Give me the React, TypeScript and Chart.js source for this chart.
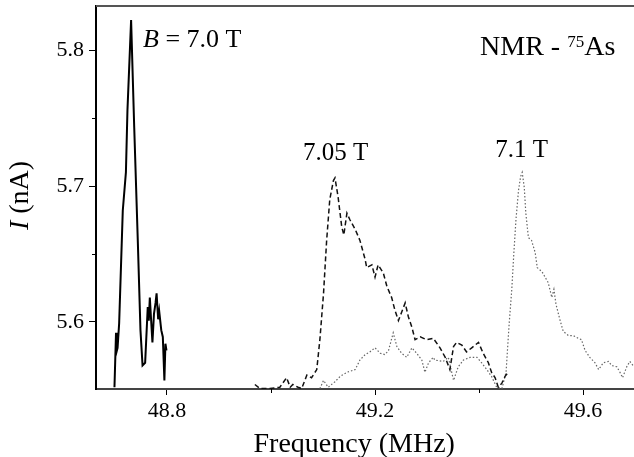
import React, { useEffect, useRef } from "react";
import { Chart, registerables } from "chart.js";

Chart.register(...registerables);

const FONT = "'Liberation Serif', 'Times New Roman', serif";

// axis ranges and ticks
const X_MIN = 48.6635;
const X_MAX = 49.698;
const Y_MIN = 5.5507;
const Y_MAX = 5.8324;
const X_TICKS = [48.8, 49.2, 49.6];
const X_MINOR = [49.0, 49.4];
const Y_TICKS = [5.6, 5.7, 5.8];
const Y_MINOR = [5.65, 5.75];

// B = 7.0 T (solid)
const B70_FREQ = [48.699, 48.702, 48.703, 48.705, 48.708, 48.715, 48.721, 48.724, 48.731, 48.737, 48.744, 48.749, 48.753, 48.758, 48.763, 48.765, 48.767, 48.770, 48.772, 48.775, 48.778, 48.780, 48.783, 48.785, 48.789, 48.792, 48.795, 48.797, 48.799];
const B70_I = [5.552, 5.592, 5.578, 5.581, 5.599, 5.682, 5.710, 5.756, 5.822, 5.743, 5.658, 5.594, 5.568, 5.570, 5.611, 5.601, 5.618, 5.598, 5.585, 5.606, 5.614, 5.621, 5.602, 5.608, 5.594, 5.589, 5.557, 5.584, 5.579];

// B = 7.05 T (dashed)
const B705_FREQ = [48.969, 48.979, 48.988, 48.998, 49.017, 49.030, 49.037, 49.042, 49.052, 49.059, 49.069, 49.078, 49.088, 49.094, 49.101, 49.107, 49.113, 49.120, 49.123, 49.129, 49.136, 49.140, 49.146, 49.152, 49.162, 49.171, 49.181, 49.184, 49.194, 49.200, 49.206, 49.216, 49.223, 49.232, 49.238, 49.245, 49.251, 49.258, 49.264, 49.271, 49.277, 49.287, 49.299, 49.312, 49.325, 49.335, 49.344, 49.351, 49.357, 49.367, 49.376, 49.386, 49.399, 49.408, 49.418, 49.424, 49.431, 49.437, 49.444, 49.450, 49.456];
const B705_I = [5.554, 5.551, 5.551, 5.551, 5.552, 5.559, 5.552, 5.554, 5.552, 5.551, 5.561, 5.559, 5.565, 5.587, 5.621, 5.660, 5.690, 5.704, 5.706, 5.692, 5.670, 5.664, 5.680, 5.675, 5.668, 5.660, 5.646, 5.640, 5.642, 5.633, 5.642, 5.636, 5.626, 5.618, 5.609, 5.601, 5.607, 5.614, 5.604, 5.596, 5.587, 5.589, 5.587, 5.588, 5.581, 5.574, 5.565, 5.582, 5.585, 5.583, 5.578, 5.581, 5.585, 5.577, 5.570, 5.563, 5.559, 5.552, 5.555, 5.560, 5.563];

// B = 7.1 T (dotted)
const B71_FREQ = [49.094, 49.101, 49.110, 49.123, 49.133, 49.146, 49.162, 49.171, 49.181, 49.190, 49.200, 49.210, 49.219, 49.226, 49.235, 49.242, 49.251, 49.261, 49.271, 49.280, 49.290, 49.296, 49.303, 49.312, 49.315, 49.331, 49.341, 49.351, 49.360, 49.370, 49.383, 49.396, 49.405, 49.415, 49.424, 49.434, 49.444, 49.452, 49.458, 49.463, 49.467, 49.471, 49.476, 49.480, 49.483, 49.487, 49.490, 49.495, 49.501, 49.508, 49.512, 49.521, 49.527, 49.533, 49.540, 49.544, 49.548, 49.556, 49.562, 49.572, 49.581, 49.591, 49.597, 49.604, 49.613, 49.623, 49.630, 49.639, 49.649, 49.655, 49.665, 49.671, 49.676, 49.684, 49.690, 49.698];
const B71_I = [5.551, 5.557, 5.552, 5.556, 5.560, 5.563, 5.565, 5.572, 5.576, 5.578, 5.581, 5.577, 5.576, 5.579, 5.592, 5.582, 5.577, 5.574, 5.581, 5.577, 5.572, 5.563, 5.570, 5.574, 5.572, 5.571, 5.574, 5.557, 5.567, 5.572, 5.574, 5.574, 5.570, 5.565, 5.560, 5.552, 5.551, 5.563, 5.599, 5.624, 5.651, 5.675, 5.697, 5.707, 5.710, 5.699, 5.680, 5.662, 5.660, 5.651, 5.640, 5.637, 5.633, 5.629, 5.618, 5.624, 5.613, 5.601, 5.593, 5.590, 5.590, 5.588, 5.587, 5.579, 5.574, 5.570, 5.565, 5.570, 5.571, 5.568, 5.567, 5.563, 5.559, 5.567, 5.571, 5.567];

// annotation anchors (data coordinates)
const LABEL_B70 = { x: 48.754, y: 5.802 };
const LABEL_B705 = { x: 49.0615, y: 5.719 };
const LABEL_B71 = { x: 49.431, y: 5.721 };
const LABEL_NMR = { x: 49.402, y: 5.796 };
const X_TITLE_CENTER = 49.16;

const pts = (xs: number[], ys: number[]) => xs.map((x, i) => ({ x, y: ys[i] }));

const decorPlugin = {
  id: "decor",
  afterDraw(chart: any) {
    const { ctx, chartArea: a, scales } = chart;
    const xs = scales.x;
    const ys = scales.y;
    ctx.save();
    // top frame line
    ctx.strokeStyle = "#555";
    ctx.lineWidth = 2;
    ctx.beginPath();
    ctx.moveTo(a.left, a.top);
    ctx.lineTo(a.right, a.top);
    ctx.stroke();
    // minor ticks
    ctx.strokeStyle = "#000";
    ctx.lineWidth = 1;
    Y_MINOR.forEach((v) => {
      const y = Math.round(ys.getPixelForValue(v)) + 0.5;
      ctx.beginPath();
      ctx.moveTo(a.left - 4, y);
      ctx.lineTo(a.left, y);
      ctx.stroke();
    });
    X_MINOR.forEach((v) => {
      const x = Math.round(xs.getPixelForValue(v)) + 0.5;
      ctx.beginPath();
      ctx.moveTo(x, a.bottom);
      ctx.lineTo(x, a.bottom + 4);
      ctx.stroke();
    });

    ctx.fillStyle = "#000";
    ctx.textAlign = "left";
    ctx.textBaseline = "alphabetic";
    const put = (parts: { text: string; font: string; rise?: number }[], fx: number, fy: number) => {
      let x = xs.getPixelForValue(fx);
      const y = ys.getPixelForValue(fy);
      for (const p of parts) {
        ctx.font = p.font;
        ctx.fillText(p.text, x, y - (p.rise || 0));
        x += ctx.measureText(p.text).width;
      }
    };
    put(
      [
        { text: "B", font: `italic 26px ${FONT}` },
        { text: " = 7.0 T", font: `26px ${FONT}` },
      ],
      LABEL_B70.x,
      LABEL_B70.y
    );
    put([{ text: "7.05 T", font: `25px ${FONT}` }], LABEL_B705.x, LABEL_B705.y);
    put([{ text: "7.1 T", font: `25px ${FONT}` }], LABEL_B71.x, LABEL_B71.y);
    put(
      [
        { text: "NMR - ", font: `28px ${FONT}` },
        { text: "75", font: `17px ${FONT}`, rise: 8 },
        { text: "As", font: `28px ${FONT}` },
      ],
      LABEL_NMR.x,
      LABEL_NMR.y
    );

    // x title
    ctx.font = `28px ${FONT}`;
    ctx.textAlign = "center";
    ctx.fillText("Frequency (MHz)", xs.getPixelForValue(X_TITLE_CENTER), a.bottom + 63);

    // y title (rotated)
    ctx.save();
    ctx.translate(a.left - 68, (a.top + a.bottom) / 2 - 2);
    ctx.rotate(-Math.PI / 2);
    ctx.textAlign = "left";
    ctx.font = `italic 28px ${FONT}`;
    const w1 = ctx.measureText("I").width;
    ctx.font = `28px ${FONT}`;
    const w2 = ctx.measureText(" (nA)").width;
    let x0 = -(w1 + w2) / 2;
    ctx.font = `italic 28px ${FONT}`;
    ctx.fillText("I", x0, 0);
    ctx.font = `28px ${FONT}`;
    ctx.fillText(" (nA)", x0 + w1, 0);
    ctx.restore();

    ctx.restore();
  },
};

export default function App() {
  const ref = useRef<HTMLCanvasElement>(null);
  useEffect(() => {
    if (!ref.current) return;
    const chart = new Chart(ref.current, {
      type: "line",
      data: {
        datasets: [
          {
            label: "7.0 T",
            data: pts(B70_FREQ, B70_I),
            borderColor: "#000",
            borderWidth: 2,
            pointRadius: 0,
            tension: 0,
            fill: false,
          },
          {
            label: "7.05 T",
            data: pts(B705_FREQ, B705_I),
            borderColor: "#111",
            borderWidth: 1.5,
            borderDash: [5, 3],
            pointRadius: 0,
            tension: 0,
            fill: false,
          },
          {
            label: "7.1 T",
            data: pts(B71_FREQ, B71_I),
            borderColor: "#666",
            borderWidth: 1.2,
            borderDash: [1.5, 2],
            pointRadius: 0,
            tension: 0,
            fill: false,
          },
        ],
      },
      options: {
        animation: false,
        responsive: true,
        maintainAspectRatio: false,
        layout: { padding: { top: 6, right: 0, left: 0, bottom: 0 } },
        plugins: {
          legend: { display: false },
          tooltip: { enabled: false },
        },
        scales: {
          x: {
            type: "linear",
            min: X_MIN,
            max: X_MAX,
            afterBuildTicks: (s: any) => {
              s.ticks = X_TICKS.map((value) => ({ value }));
            },
            afterFit: (s: any) => {
              s.height = 68;
              s.paddingLeft = 0;
              s.paddingRight = 0;
            },
            grid: { display: true, drawOnChartArea: false, drawTicks: true, tickLength: 6, color: "#000", lineWidth: 1 },
            border: { display: true, color: "#444", width: 2 },
            ticks: {
              color: "#000",
              font: { family: FONT, size: 22 },
              padding: 3,
              maxRotation: 0,
              autoSkip: false,
              callback: (v: any) => Number(v).toFixed(1),
            },
          },
          y: {
            type: "linear",
            min: Y_MIN,
            max: Y_MAX,
            afterBuildTicks: (s: any) => {
              s.ticks = Y_TICKS.map((value) => ({ value }));
            },
            afterFit: (s: any) => {
              s.width = 96;
              s.paddingTop = 0;
              s.paddingBottom = 0;
            },
            grid: { display: true, drawOnChartArea: false, drawTicks: true, tickLength: 7, color: "#000", lineWidth: 1 },
            border: { display: true, color: "#000", width: 2 },
            ticks: {
              color: "#000",
              font: { family: FONT, size: 22 },
              padding: 5,
              autoSkip: false,
              callback: (v: any) => Number(v).toFixed(1),
            },
          },
        },
      },
      plugins: [decorPlugin],
    });
    return () => chart.destroy();
  }, []);
  return (
    <div style={{ position: "fixed", left: 0, top: 0, width: 634, height: 457, background: "#fff" }}>
      <canvas ref={ref} />
    </div>
  );
}
